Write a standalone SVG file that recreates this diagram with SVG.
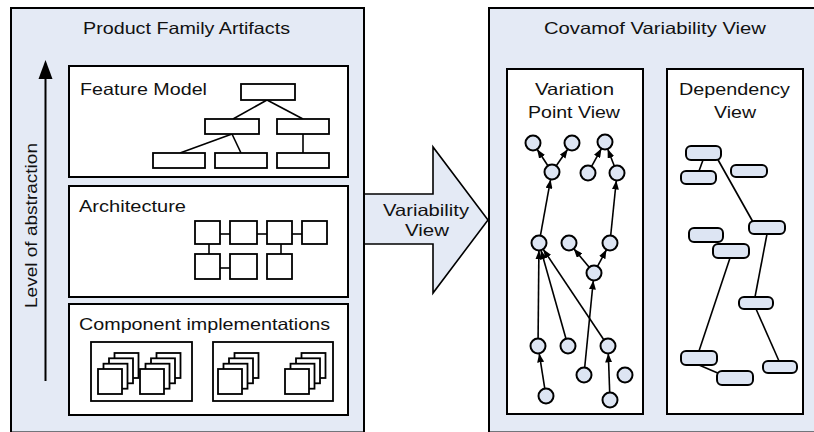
<svg xmlns="http://www.w3.org/2000/svg" width="814" height="432" viewBox="0 0 814 432">
<style>
text{font-family:"Liberation Sans",Arial,sans-serif;font-size:16.5px;fill:#111}
.panel{fill:#e4eaf5;stroke:#000;stroke-width:2}
.box{fill:#fff;stroke:#000;stroke-width:2}
.sm{fill:#fff;stroke:#000;stroke-width:1.8}
.ln{stroke:#000;stroke-width:1.6;fill:none}
.vp{fill:#dde5f3;stroke:#000;stroke-width:2}
.pill{fill:#dde5f3;stroke:#000;stroke-width:2}
.arr{stroke:#000;stroke-width:1.6;fill:none;marker-end:url(#ah)}
</style>
<defs>
<marker id="ah" markerUnits="userSpaceOnUse" markerWidth="9" markerHeight="7" refX="9" refY="3.5" orient="auto">
<path d="M0,0 L9,3.5 L0,7 z" fill="#000"/>
</marker>
<g id="stack">
<rect class="sm" x="16.5" y="-16" width="24" height="25"/>
<rect class="sm" x="11" y="-10.7" width="24" height="25"/>
<rect class="sm" x="5.5" y="-5.3" width="24" height="25"/>
<rect class="sm" x="0" y="0" width="24" height="25"/>
</g>
</defs>

<g id="left-panel">
<rect class="panel" x="11" y="8" width="353" height="424.5"/>
<text x="83" y="34" textLength="207" lengthAdjust="spacingAndGlyphs">Product Family Artifacts</text>
</g>

<g id="abstraction-axis">
<line x1="45.5" y1="381" x2="45.5" y2="74" stroke="#000" stroke-width="2"/>
<polygon points="45.5,60 38.5,79 52.5,79" fill="#000"/>
<text transform="translate(37,308) rotate(-90)" textLength="165" lengthAdjust="spacingAndGlyphs">Level of abstraction</text>
</g>

<g id="feature-model">
<rect class="box" x="69" y="66" width="279" height="111"/>
<text x="80" y="95" textLength="127" lengthAdjust="spacingAndGlyphs">Feature Model</text>
<g class="ln">
<line x1="267" y1="100" x2="233" y2="119"/>
<line x1="267" y1="100" x2="303" y2="119"/>
<line x1="232" y1="134" x2="180" y2="153"/>
<line x1="232" y1="134" x2="241" y2="153"/>
<line x1="303" y1="134" x2="303" y2="153"/>
</g>
<rect class="sm" x="241" y="84" width="54" height="16"/>
<rect class="sm" x="205" y="119" width="54" height="15"/>
<rect class="sm" x="277" y="119" width="52" height="15"/>
<rect class="sm" x="153" y="153" width="52" height="15"/>
<rect class="sm" x="215" y="153" width="52" height="15"/>
<rect class="sm" x="277" y="153" width="52" height="15"/>
</g>

<g id="architecture">
<rect class="box" x="69" y="186" width="279" height="111"/>
<text x="79" y="212" textLength="107" lengthAdjust="spacingAndGlyphs">Architecture</text>
<g class="ln">
<line x1="220" y1="234" x2="230" y2="234"/>
<line x1="255" y1="234" x2="267" y2="234"/>
<line x1="292" y1="234" x2="302" y2="234"/>
<line x1="209" y1="244" x2="209" y2="254"/>
<line x1="281" y1="244" x2="281" y2="254"/>
<line x1="220" y1="268" x2="230" y2="268"/>
</g>
<rect class="sm" x="195" y="221" width="25" height="23"/>
<rect class="sm" x="230" y="221" width="27" height="23"/>
<rect class="sm" x="267" y="221" width="25" height="23"/>
<rect class="sm" x="302" y="221" width="25" height="23"/>
<rect class="sm" x="195" y="254" width="25" height="25"/>
<rect class="sm" x="230" y="254" width="27" height="25"/>
<rect class="sm" x="267" y="254" width="25" height="25"/>
</g>

<g id="component-implementations">
<rect class="box" x="69" y="304" width="279" height="111"/>
<text x="79" y="330" textLength="251" lengthAdjust="spacingAndGlyphs">Component implementations</text>
<rect class="sm" x="91" y="342" width="101" height="59"/>
<rect class="sm" x="213" y="342" width="120" height="59"/>
<use href="#stack" x="98" y="369"/>
<use href="#stack" x="140" y="369"/>
<use href="#stack" x="218" y="369"/>
<use href="#stack" x="285" y="369"/>
</g>

<g id="variability-view-arrow">
<polygon points="365,194 433,194 433,147 488,220 433,293 433,244 365,244" fill="#e4eaf5"/>
<polyline points="364,194 433,194 433,147 488,220 433,293 433,244 364,244" fill="none" stroke="#000" stroke-width="1.6"/>
<text x="383" y="216" textLength="86" lengthAdjust="spacingAndGlyphs">Variability</text>
<text x="405" y="236" textLength="44" lengthAdjust="spacingAndGlyphs">View</text>
</g>

<g id="right-panel">
<rect class="panel" x="489" y="8" width="340" height="424.5"/>
<text x="544" y="34" textLength="222" lengthAdjust="spacingAndGlyphs">Covamof Variability View</text>
</g>

<g id="variation-point-view">
<rect class="box" x="507" y="69" width="136" height="345"/>
<text x="535" y="95" textLength="79" lengthAdjust="spacingAndGlyphs">Variation</text>
<text x="528" y="118" textLength="92" lengthAdjust="spacingAndGlyphs">Point View</text>
</g>

<g id="vp-connectors">
<line class="arr" x1="547.9" y1="165.7" x2="537.1" y2="149.3"/>
<line class="arr" x1="556.3" y1="165.8" x2="567.7" y2="149.2"/>
<line class="arr" x1="591.6" y1="166.4" x2="601.4" y2="148.6"/>
<line class="arr" x1="614.3" y1="166.0" x2="607.7" y2="149.0"/>
<line class="arr" x1="540.4" y1="235.6" x2="550.6" y2="179.4"/>
<line class="arr" x1="610.7" y1="235.5" x2="616.3" y2="180.5"/>
<line class="arr" x1="538.1" y1="338.5" x2="538.9" y2="250.5"/>
<line class="arr" x1="566" y1="338.8" x2="541" y2="250.2"/>
<line class="arr" x1="603.8" y1="339.8" x2="543.2" y2="249.2"/>
<line class="arr" x1="589.2" y1="267.2" x2="573.8" y2="248.8"/>
<line class="arr" x1="597.5" y1="266.4" x2="606.5" y2="249.6"/>
<line class="arr" x1="584.7" y1="367.5" x2="593.3" y2="280.5"/>
<line class="arr" x1="544.8" y1="388.6" x2="539.2" y2="353.4"/>
<line class="arr" x1="609.7" y1="392.5" x2="608.3" y2="353.5"/>
</g>

<g id="vp-nodes">
<circle id="vpA" class="vp" cx="533" cy="143" r="7.5"/>
<circle id="vpB" class="vp" cx="572" cy="143" r="7.5"/>
<circle id="vpC" class="vp" cx="605" cy="142" r="7.5"/>
<circle id="vpD" class="vp" cx="552" cy="172" r="7.5"/>
<circle id="vpE" class="vp" cx="588" cy="173" r="7.5"/>
<circle id="vpF" class="vp" cx="617" cy="173" r="7.5"/>
<circle id="vpG" class="vp" cx="539" cy="243" r="7.5"/>
<circle id="vpH" class="vp" cx="569" cy="243" r="7.5"/>
<circle id="vpI" class="vp" cx="610" cy="243" r="7.5"/>
<circle id="vpJ" class="vp" cx="594" cy="273" r="7.5"/>
<circle id="vpK" class="vp" cx="538" cy="346" r="7.5"/>
<circle id="vpL" class="vp" cx="568" cy="346" r="7.5"/>
<circle id="vpM" class="vp" cx="608" cy="346" r="7.5"/>
<circle id="vpN" class="vp" cx="584" cy="375" r="7.5"/>
<circle id="vpO" class="vp" cx="625" cy="375" r="7.5"/>
<circle id="vpP" class="vp" cx="546" cy="396" r="7.5"/>
<circle id="vpQ" class="vp" cx="610" cy="400" r="7.5"/>
</g>

<g id="dependency-view">
<rect class="box" x="667" y="69" width="136" height="345"/>
<text x="679" y="95" textLength="111" lengthAdjust="spacingAndGlyphs">Dependency</text>
<text x="714" y="118" textLength="42" lengthAdjust="spacingAndGlyphs">View</text>
</g>

<g id="dep-connectors" class="ln">
<line x1="703" y1="160" x2="699" y2="171"/>
<line x1="717" y1="158" x2="753" y2="222"/>
<line x1="767" y1="234" x2="755" y2="297"/>
<line x1="756" y1="309" x2="779" y2="361"/>
<line x1="730" y1="258" x2="699" y2="351"/>
<line x1="699" y1="365" x2="720" y2="374"/>
</g>

<g id="dep-nodes">
<rect id="d1" class="pill" x="686" y="146" width="35" height="14" rx="5"/>
<rect id="d2" class="pill" x="681" y="171" width="35" height="13" rx="5"/>
<rect id="d3" class="pill" x="731" y="165" width="36" height="12" rx="5"/>
<rect id="d4" class="pill" x="749" y="221" width="36" height="13" rx="5"/>
<rect id="d5" class="pill" x="689" y="228" width="34" height="14" rx="5"/>
<rect id="d6" class="pill" x="713" y="244" width="36" height="14" rx="5"/>
<rect id="d7" class="pill" x="739" y="297" width="34" height="12" rx="5"/>
<rect id="d8" class="pill" x="681" y="351" width="36" height="14" rx="5"/>
<rect id="d9" class="pill" x="717" y="371" width="36" height="14" rx="5"/>
<rect id="d10" class="pill" x="763" y="361" width="34" height="12" rx="5"/>
</g>
</svg>
